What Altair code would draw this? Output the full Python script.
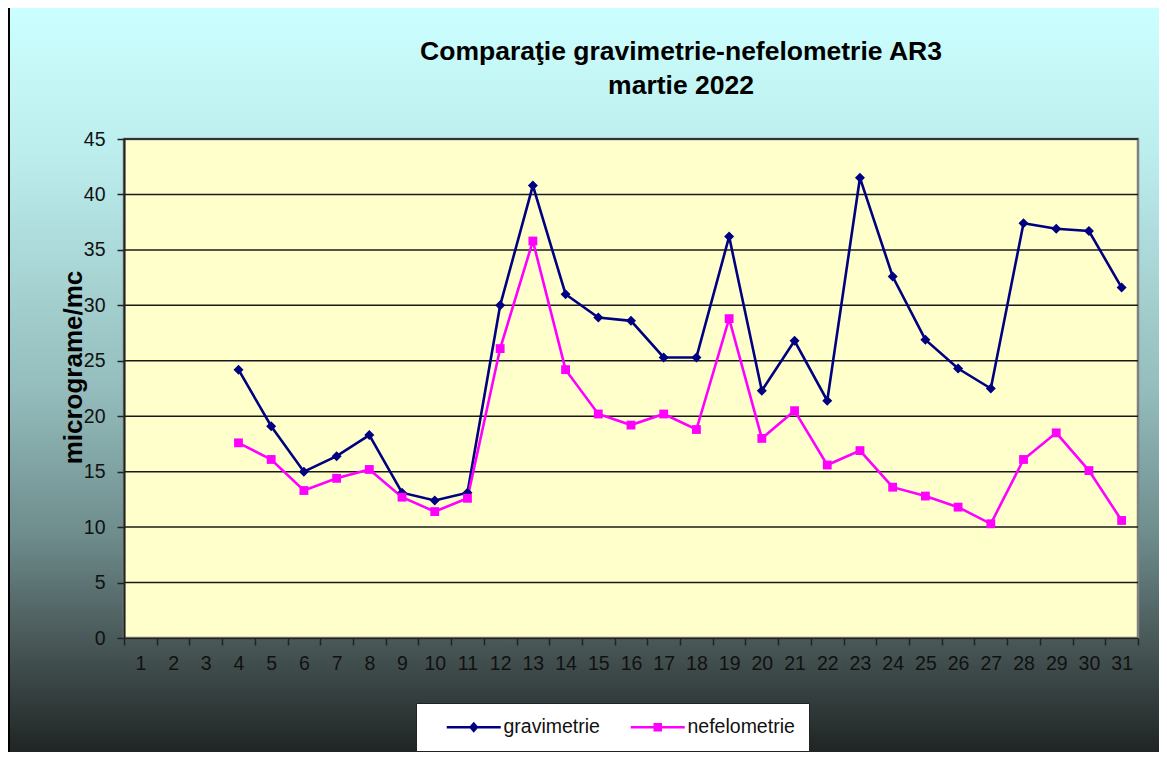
import altair as alt
import pandas as pd

# ---- data ----
days = list(range(4, 32))
gravimetrie = [24.2, 19.1, 15.0, 16.4, 18.3, 13.1, 12.4, 13.1, 30.0, 40.8, 31.0, 28.9, 28.6, 25.3,
               25.3, 36.2, 22.3, 26.8, 21.4, 41.5, 32.6, 26.9, 24.3, 22.5, 37.4, 36.9, 36.7, 31.6]
nefelometrie = [17.6, 16.1, 13.3, 14.4, 15.2, 12.7, 11.4, 12.6, 26.1, 35.8, 24.2, 20.2, 19.2, 20.2,
                18.8, 28.8, 18.0, 20.5, 15.6, 16.9, 13.6, 12.8, 11.8, 10.3, 16.1, 18.5, 15.1, 10.6]
x_labels = list(range(1, 32))
x_bounds = [i + 0.5 for i in range(0, 32)]
y_ticks = [0, 5, 10, 15, 20, 25, 30, 35, 40, 45]
series = ["gravimetrie", "nefelometrie"]
colors = ["#000080", "#ff00ff"]
title_lines = ["Comparaţie gravimetrie-nefelometrie AR3", "martie 2022"]
y_title = "micrograme/mc"

FONT = "Liberation Sans"
W, H = 1014, 499
PAD = {"left": 116, "top": 131, "right": 21, "bottom": 114}

df = pd.DataFrame({
    "day": days * 2,
    "value": gravimetrie + nefelometrie,
    "series": [series[0]] * len(days) + [series[1]] * len(days),
})
grid_df = pd.DataFrame({"y": y_ticks[1:]})

xscale = alt.Scale(domain=[0.5, 31.5], nice=False, zero=False)
yscale = alt.Scale(domain=[0, 45], nice=False, zero=True)
cscale = alt.Scale(domain=series, range=colors)

# legend symbols: line segment with marker in the middle
path_g = "M-5.4,-0.25H5.4V0.25H-5.4Z M0,-1.1L0.95,0L0,1.1L-0.95,0Z"
path_n = "M-5.4,-0.25H5.4V0.25H-5.4Z M-0.85,-0.85H0.85V0.85H-0.85Z"
sscale = alt.Scale(domain=series, range=[path_g, path_n])

legend = alt.Legend(
    title=None, orient="none", legendX=292, legendY=564, direction="horizontal",
    fillColor="#ffffff", strokeColor="#222222", padding=14,
    labelFont=FONT, labelFontSize=19.5, labelColor="#111111", labelLimit=300,
    symbolSize=100, symbolStrokeWidth=0, symbolOffset=34, labelOffset=20,
    symbolOpacity=1, columnPadding=14, cornerRadius=0,
)

one = alt.Data(values=[{"a": 1}])

bg = alt.Chart(one).mark_rect(
    fill=alt.Gradient(
        gradient="linear", x1=0, x2=0, y1=0, y2=1,
        stops=[
            alt.GradientStop(offset=0.0, color="#ccffff"),
            alt.GradientStop(offset=0.19, color="#bdeeee"),
            alt.GradientStop(offset=0.51, color="#94bcbc"),
            alt.GradientStop(offset=0.70, color="#6e8c8c"),
            alt.GradientStop(offset=0.85, color="#465454"),
            alt.GradientStop(offset=1.0, color="#1c2020"),
        ],
    ),
    stroke="#000000", strokeWidth=2,
).encode(
    x=alt.value(-PAD["left"] + 1), x2=alt.value(W + PAD["right"] + 10),
    y=alt.value(-PAD["top"] - 2), y2=alt.value(H + PAD["bottom"] + 10),
)

plot_bg = alt.Chart(one).mark_rect(fill="#ffffcc", stroke="#808080", strokeWidth=2.5).encode(
    x=alt.value(0), x2=alt.value(W), y=alt.value(0), y2=alt.value(H)
)

grid = alt.Chart(grid_df).mark_rule(color="#1a1a1a", strokeWidth=1.5).encode(
    y=alt.Y("y:Q", scale=yscale, axis=None)
)

xticks_layer = alt.Chart(df).mark_point(opacity=0).encode(
    x=alt.X("day:Q", scale=xscale, axis=alt.Axis(
        orient="bottom", values=x_bounds, labels=False, title=None, grid=False,
        tickSize=7, tickColor="#222222", tickWidth=1.5, domain=False, zindex=2)),
    y=alt.Y("value:Q", scale=yscale, axis=None),
)

lines = alt.Chart(df).mark_line(strokeWidth=2.6).encode(
    x=alt.X("day:Q", scale=xscale, axis=alt.Axis(
        orient="bottom", values=x_labels, title=None, grid=False, ticks=False,
        labelPadding=16, labelFont=FONT, labelFontSize=19.5, labelColor="#111111",
        labelFlush=False, labelOverlap=False, domainColor="#222222", domainWidth=1.5, zindex=2)),
    y=alt.Y("value:Q", scale=yscale, axis=alt.Axis(
        orient="left", values=y_ticks, title=y_title, grid=False, tickSize=7,
        tickColor="#222222", tickWidth=1.5,
        labelPadding=12, labelFont=FONT, labelFontSize=19.5, labelColor="#111111",
        domainColor="#222222", domainWidth=2,
        titleFont=FONT, titleFontSize=26, titleFontWeight="bold", titleColor="#000000",
        titleX=-51, titleY=228, titleAngle=270, titleBaseline="middle", titleAlign="center",
        zindex=2)),
    color=alt.Color("series:N", scale=cscale, legend=None),
    detail="series:N",
)

pts_g = alt.Chart(df).transform_filter(alt.datum.series == series[0]).mark_point(
    shape="diamond", filled=True, size=100, opacity=1).encode(
    x=alt.X("day:Q", scale=xscale, axis=None),
    y=alt.Y("value:Q", scale=yscale, axis=None),
    color=alt.Color("series:N", scale=cscale, legend=None),
)
pts_n = alt.Chart(df).transform_filter(alt.datum.series == series[1]).mark_point(
    shape="square", filled=True, size=78, opacity=1).encode(
    x=alt.X("day:Q", scale=xscale, axis=None),
    y=alt.Y("value:Q", scale=yscale, axis=None),
    color=alt.Color("series:N", scale=cscale, legend=None),
)

legend_layer = alt.Chart(df).mark_point(filled=True, opacity=0).encode(
    x=alt.X("day:Q", scale=xscale, axis=None),
    y=alt.Y("value:Q", scale=yscale, axis=None),
    color=alt.Color("series:N", scale=cscale, legend=legend),
    shape=alt.Shape("series:N", scale=sscale, legend=legend),
)

chart = alt.layer(bg, plot_bg, grid, xticks_layer, lines, pts_g, pts_n, legend_layer).resolve_axis(
    x="independent", y="independent"
).resolve_legend(
    color="independent", shape="independent"
).properties(
    width=W, height=H,
    autosize=alt.AutoSizeParams(type="none"),
    padding=PAD,
    title=alt.TitleParams(
        text=title_lines, font=FONT, fontSize=26.5, fontWeight="bold", color="#000000",
        anchor="middle", frame="group", dx=50, offset=39, dy=133, lineHeight=34,
    ),
).configure_view(stroke=None).configure(background="#ffffff")

chart.save("out.html", embed_options={"renderer": "svg", "actions": False})
